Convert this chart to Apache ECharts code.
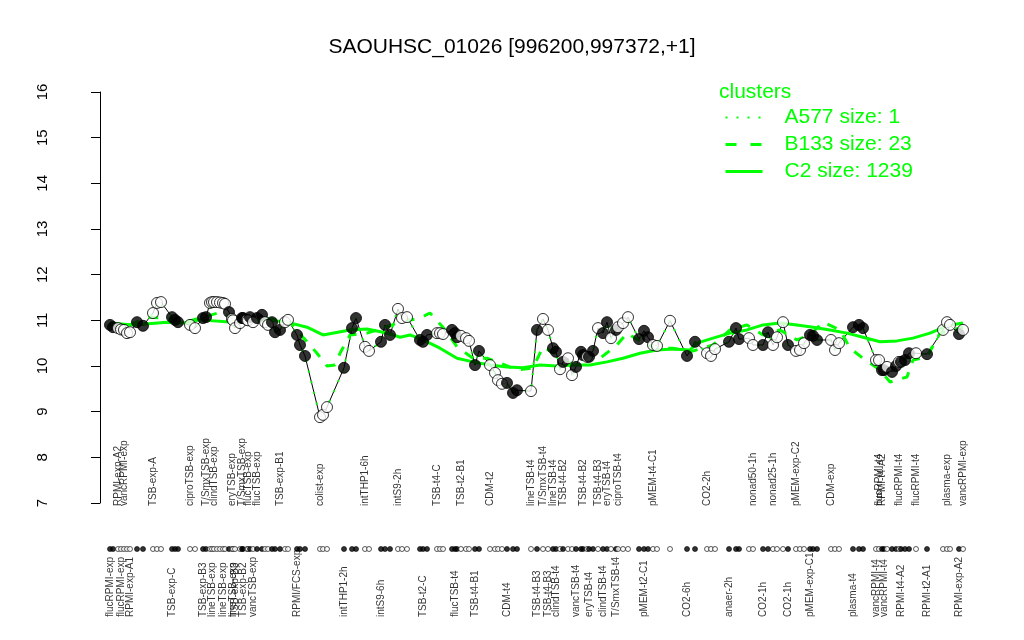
<!DOCTYPE html>
<html><head><meta charset="utf-8">
<script src="https://cdn.jsdelivr.net/npm/echarts@6/dist/echarts.min.js"></script>
<style>html,body{margin:0;padding:0;background:#fff}#c{width:1024px;height:640px}</style>
</head><body><div id="c"></div>
<script>
// ---------------- data ----------------
const titleText = 'SAOUHSC_01026 [996200,997372,+1]';
const legendTitle = 'clusters';
const clusterNames = ['A577 size: 1', 'B133 size: 23', 'C2 size: 1239'];
const yMin = 7, yMax = 16, yStep = 1;

// sample positions along the (hidden) condition axis
const samplePos = [
  2.0,2.6,3.6,4.2,4.8,5.4,6.0,7.4,8.6,
  10.6,11.4,12.2,
  14.4,15.0,15.6,
  18.0,19.0,
  20.6,21.2,22.0,22.4,22.8,23.4,24.0,24.6,25.0,25.8,26.4,26.6,27.0,28.0,28.4,28.6,29.4,29.6,30.0,30.6,31.4,32.4,33.0,33.6,34.4,35.0,36.0,37.0,37.6,
  39.4,40.0,41.0,
  44.0,44.6,45.4,
  48.8,50.4,51.2,
  53.0,53.8,
  56.2,57.0,58.0,
  59.6,60.4,61.4,
  64.0,64.6,65.4,
  67.4,68.0,68.6,
  70.4,71.0,71.4,72.2,73.2,73.8,75.0,75.8,
  78.0,79.0,79.6,80.4,81.4,82.6,83.4,
  86.2,
  87.4,88.6,89.6,90.6,91.2,92.0,92.6,93.6,94.4,95.2,96.2,96.6,97.4,97.8,98.6,99.6,100.6,101.4,102.2,103.2,103.6,104.6,105.6,
  107.8,108.8,109.6,110.6,111.4,
  114.0,
  117.4,119.0,
  121.4,122.2,123.0,
  125.8,127.2,127.8,
  129.8,130.6,132.6,133.6,134.6,135.4,136.6,137.6,
  139.2,140.0,140.8,142.0,142.6,143.4,
  146.2,147.0,147.8,
  150.6,151.8,152.6,
  155.2,155.8,156.4,156.8,157.4,158.4,159.2,159.8,160.2,161.0,161.8,163.2,
  165.4,
  168.6,169.4,170.0,
  171.8,172.6
];
const sampleVal = [
  10.90,10.85,10.83,10.80,10.79,10.72,10.74,10.96,10.88,
  11.16,11.38,11.40,
  11.07,11.01,10.96,
  10.90,10.83,
  11.05,11.07,11.38,11.40,11.40,11.40,11.39,11.38,11.36,11.18,11.03,11.00,10.83,10.94,11.05,11.05,11.01,11.00,11.07,10.96,11.05,11.12,10.96,10.90,10.96,10.74,10.79,10.96,11.01,
  10.68,10.46,10.22,
  8.88,8.93,9.10,
  9.96,10.83,11.05,
  10.42,10.33,
  10.53,10.90,10.68,
  11.25,11.05,11.07,
  10.57,10.53,10.68,
  10.72,10.72,10.70,
  10.79,10.72,10.63,10.66,10.61,10.55,10.02,10.33,
  10.02,9.85,9.69,9.61,9.63,9.41,9.47,
  9.45,
  10.79,11.03,10.79,10.39,10.31,9.93,10.09,10.17,9.80,9.98,10.31,10.24,10.20,10.20,10.33,10.83,10.72,10.96,10.61,10.79,10.85,10.94,11.07,
  10.59,10.77,10.63,10.46,10.44,
  10.99,
  10.22,10.53,
  10.28,10.22,10.37,
  10.53,10.83,10.59,
  10.61,10.46,10.46,10.74,10.46,10.63,10.96,10.46,
  10.33,10.35,10.50,10.68,10.66,10.57,
  10.57,10.35,10.50,
  10.85,10.90,10.83,
  10.13,10.13,9.91,9.91,9.98,9.87,10.00,10.09,10.09,10.13,10.28,10.28,
  10.26,
  10.79,10.96,10.90,
  10.70,10.79
];
// 1 = filled marker, 0 = open marker
const sampleFilled = [
  1,1,0,0,0,0,0,1,1,
  0,0,0,
  1,1,1,
  0,0,
  1,1,0,0,0,0,0,0,0,1,0,0,0,0,1,1,0,0,1,0,1,1,0,0,1,1,1,0,0,
  1,1,1,
  0,0,0,
  1,1,1,
  0,0,
  1,1,1,
  0,0,0,
  1,1,1,
  0,0,0,
  1,1,1,0,0,0,1,1,
  0,0,0,0,1,1,1,
  0,
  1,0,0,1,1,0,1,0,0,1,1,1,0,1,1,0,1,1,0,1,0,0,0,
  1,1,1,0,0,
  0,
  1,1,
  0,0,0,
  1,1,1,
  0,0,1,1,0,0,0,1,
  0,0,0,1,1,1,
  0,0,0,
  1,1,1,
  0,0,1,1,0,1,1,0,1,1,1,0,
  1,
  0,0,0,
  1,0
];
const sampleName = [
  'flucRPMI-exp','','RPMI-exp-A2','flucRPMI-exp','vancRPMI-exp','','RPMI-exp-A1','','',
  'TSB-exp-A','','',
  'TSB-exp-C','','',
  'ciproTSB-exp','',
  'TSB-exp-B3','T/SmxTSB-exp','','lineTSB-exp','clindTSB-exp','','','lineTSB-exp','','','eryTSB-exp','lineTSB-exp','TSB-exp-B3','','T/SmxTSB-exp','TSB-exp-B2','','flucTSB-exp','','vancTSB-exp','flucTSB-exp','','','','','','TSB-exp-B1','','',
  'RPMI/FCS-exp','','',
  'colist-exp','','',
  'intTHP1-2h','','',
  'intTHP1-6h','',
  'intS9-6h','','',
  'intS9-2h','','',
  '','TSB-t2-C','',
  'TSB-t4-C','','',
  '','flucTSB-t4','','TSB-t2-B1','','','TSB-t4-B1','',
  'CDM-t2','','','','CDM-t4','','',
  'lineTSB-t4',
  'TSB-t4-B3','T/SmxTSB-t4','TSB-t4-B3','lineTSB-t4','clindTSB-t4','','TSB-t4-B2','','','vancTSB-t4','','TSB-t4-B2','','eryTSB-t4','','TSB-t4-B3','clindTSB-t4','eryTSB-t4','','T/SmxTSB-t4','ciproTSB-t4','','',
  '','pMEM-t2-C1','','pMEM-t4-C1','',
  '',
  'CO2-6h','',
  'CO2-2h','','',
  'anaer-2h','','',
  '','nonad50-1h','CO2-1h','','nonad25-1h','','','CO2-1h',
  'pMEM-exp-C2','','','pMEM-exp-C1','','',
  'CDM-exp','','',
  'plasma-t4','','',
  'vancRPMI-t4','flucRPMI-t4','RPMI-t4-A2','vancRPMI-t4','','','','flucRPMI-t4','RPMI-t4-A2','','','flucRPMI-t4',
  'RPMI-t2-A1',
  '','plasma-exp','',
  'RPMI-exp-A2','vancRPMI-exp'
];
// 't' = label above the membership row, 'b' = below, '' = not labelled
const labelRow = [
  'b','','t','b','t','','b','','',
  't','','',
  'b','','',
  't','',
  'b','t','','b','t','','','b','','','t','b','b','','t','b','','t','','b','t','','','','','','t','','',
  'b','','',
  't','','',
  'b','','',
  't','',
  'b','','',
  't','','',
  '','b','',
  't','','',
  '','b','','t','','','b','',
  't','','','','b','','',
  't',
  'b','t','b','t','b','','t','','','b','','t','','b','','t','b','t','','b','t','','',
  '','b','','t','',
  '',
  'b','',
  't','','',
  'b','','',
  '','t','b','','t','','','b',
  't','','','b','','',
  't','','',
  'b','','',
  'b','t','t','b','','','','t','b','','','t',
  'b',
  '','t','',
  'b','t'
];

// cluster profiles
const c2Pos = [2,6.6,13.4,16.6,20,26.6,33.4,37.4,41.4,44.6,50,53.4,56.6,58.6,60,62,64.6,68,71.4,74.6,78,81.4,84.6,88,91.4,94.6,98,101.4,104.6,108,111.4,114.6,118,119.4,122.6,126,129.4,132.6,136,139.4,142.6,146,149.4,152.6,156,159.4,162.6,166,169.4,172.6];
const c2Val = [10.94,10.90,10.96,10.94,11.01,10.96,11.01,10.96,10.85,10.68,10.79,10.81,10.74,10.68,10.63,10.68,10.57,10.39,10.17,10.09,10.02,9.98,9.96,10.02,10.00,10.02,10.02,10.09,10.17,10.28,10.35,10.37,10.35,10.50,10.61,10.72,10.79,10.90,10.94,10.90,10.85,10.79,10.72,10.63,10.53,10.55,10.61,10.72,10.88,10.94];
const b133Pos = [2,6,9.4,13,17,20,23.6,28,33,38,40.6,43.4,45.4,47,48,50,53.4,56.6,60,64,66,68.6,71.4,74.6,77.4,80.6,83.4,86.6,88.6,91.4,94,98,100,103.4,105.4,108.6,111.4,114.6,118,122.6,126,129.4,132.6,136,139.4,142,144.6,148,150,152.6,156,158,161.4,162.6,165.4,168,172.6];
const b133Val = [10.90,10.90,11.07,11.05,10.96,11.05,11.16,11.05,11.05,10.96,10.63,10.28,10.00,10.02,10.28,10.68,10.72,10.83,10.96,11.05,11.16,10.85,10.42,10.17,10.17,10.04,9.91,9.96,10.42,10.24,10.07,10.20,10.17,10.46,10.72,10.50,10.39,10.39,10.31,10.46,10.79,10.90,10.68,10.79,10.57,10.68,10.96,10.79,10.39,10.17,9.91,9.65,9.76,10.13,10.20,10.72,10.85];

// ---------------- chart ----------------
const FONT = '"Liberation Sans", Arial, Helvetica, sans-serif';
const GREEN = '#00ff00';
const ROW_TOP = 6, ROW_DOTS = 49, ROW_BOTTOM = 117; // label-strip coordinates

const pts = samplePos.map((p, i) => [p, sampleVal[i]]);
const fillOf = i => (sampleFilled[i] ? '#000' : '#fff');

function labelSeries(row, yv) {
  const data = [];
  samplePos.forEach((p, i) => {
    if (labelRow[i] === row && sampleName[i]) data.push({ name: sampleName[i], value: [p, yv] });
  });
  return {
    type: 'scatter', xAxisIndex: 1, yAxisIndex: 1, data, silent: true,
    symbol: 'circle', symbolSize: 1, itemStyle: { color: 'rgba(0,0,0,0)' },
    label: { show: true, position: 'inside', formatter: '{b}', rotate: 90, align: 'left', verticalAlign: 'middle',
      fontFamily: FONT, fontSize: 10, color: '#000' },
    z: 5
  };
}

const chart = echarts.init(document.getElementById('c'));
chart.setOption({
  animation: false,
  backgroundColor: '#fff',
  title: [
    { text: titleText, left: 'center', top: 32,
      textStyle: { fontFamily: FONT, fontSize: 21, fontWeight: 'normal', color: '#000' } },
    { text: legendTitle, left: 714, top: 77,
      textStyle: { fontFamily: FONT, fontSize: 21, fontWeight: 'normal', color: GREEN } }
  ],
  legend: {
    orient: 'vertical', left: 719, top: 102, itemWidth: 37, itemHeight: 14, itemGap: 6,
    selectedMode: false,
    itemStyle: { opacity: 0 },
    textStyle: { fontFamily: FONT, fontSize: 21, color: GREEN, padding: [0, 0, 0, 17] },
    data: [
      { name: clusterNames[0], itemStyle: { opacity: 0 }, lineStyle: { type: [2, 9], width: 2, color: GREEN } },
      { name: clusterNames[1], itemStyle: { opacity: 0 }, lineStyle: { type: [11, 14], width: 3, color: GREEN } },
      { name: clusterNames[2], itemStyle: { opacity: 0 }, lineStyle: { type: 'solid', width: 3, color: GREEN } }
    ]
  },
  grid: [
    { left: 100, right: 49, top: 92, bottom: 137 },
    { left: 100, right: 49, top: 500, height: 140 }
  ],
  xAxis: [
    { type: 'value', gridIndex: 0, min: 0, max: 175, show: false },
    { type: 'value', gridIndex: 1, min: 0, max: 175, show: false }
  ],
  yAxis: [
    { type: 'value', gridIndex: 0, min: yMin, max: yMax, interval: yStep, offset: 23,
      axisLine: { show: true, lineStyle: { color: '#000', width: 1 } },
      axisTick: { show: true, length: 9, lineStyle: { color: '#000', width: 1 } },
      axisLabel: { rotate: 90, margin: 27, fontFamily: FONT, fontSize: 15, color: '#000' },
      splitLine: { show: false } },
    { type: 'value', gridIndex: 1, min: 0, max: 140, inverse: true, show: false }
  ],
  series: [
    { type: 'line', name: 'profile', data: pts, symbol: 'none', silent: true,
      lineStyle: { color: '#000', width: 1 }, z: 2 },
    { type: 'line', name: clusterNames[2], data: c2Pos.map((p, i) => [p, c2Val[i]]), symbol: 'none', silent: true,
      color: GREEN, lineStyle: { color: GREEN, width: 3, type: 'solid' }, z: 3 },
    { type: 'line', name: clusterNames[1], data: b133Pos.map((p, i) => [p, b133Val[i]]), symbol: 'none', silent: true,
      color: GREEN, lineStyle: { color: GREEN, width: 3, type: [10, 10] }, z: 3 },
    { type: 'line', name: clusterNames[0], data: pts, symbol: 'none', silent: true,
      color: GREEN, lineStyle: { color: GREEN, width: 2, type: [2, 9] }, z: 3 },
    { type: 'scatter', name: 'samples', silent: true, symbol: 'circle', symbolSize: 11,
      data: pts.map((d, i) => ({ value: d, itemStyle: { color: fillOf(i) } })),
      itemStyle: { borderColor: '#000', borderWidth: 1 }, z: 4 },
    { type: 'scatter', name: 'membership', xAxisIndex: 1, yAxisIndex: 1, silent: true, symbol: 'circle', symbolSize: 5,
      data: samplePos.map((p, i) => ({ value: [p, ROW_DOTS], itemStyle: { color: fillOf(i) } })),
      itemStyle: { borderColor: '#000', borderWidth: 0.8 }, z: 4 },
    labelSeries('t', ROW_TOP),
    labelSeries('b', ROW_BOTTOM)
  ]
});
</script>
</body></html>
